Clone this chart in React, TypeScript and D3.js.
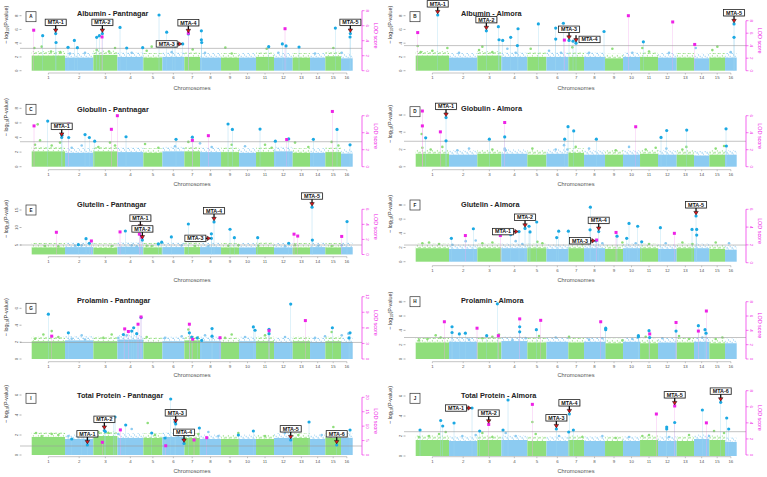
import React from "react";
import * as d3 from "d3";

type Pt = [number, number];
type Side = "top" | "left" | "right";
type Mta = [number, number, Side];

// chromosome lengths (cumulative genome units), 16 chromosomes
const chromLengths = [100, 85, 72, 78, 57, 66, 47, 63, 54, 51, 54, 56, 52, 46, 47, 35];
const chromNames = chromLengths.map((_, i) => String(i + 1));

// ---- Albumin - Pantnagar
const albPantCloud = [2.2, 1.9, 2.3, 2.0, 1.9, 2.0, 2.0, 1.9, 1.9, 1.9, 2.0, 1.9, 1.9, 1.9, 2.1, 1.8];
const albPantFringe: Pt[] = [[8, 3.3], [30, 3.5], [58, 2.8], [86, 2.7], [115, 2.5], [160, 2.6], [195, 3.0], [232, 2.8], [250, 3.3], [300, 2.6], [345, 2.9], [360, 3.5], [420, 2.7], [483, 3.1], [520, 2.6], [581, 3.35], [600, 2.5], [705, 3.2], [740, 2.6], [850, 2.5], [905, 3.3], [930, 2.6]];
const albPantHits: Pt[] = [[33, 5.1], [72, 5.4], [73, 4.1], [109, 3.4], [128, 4.4], [137, 3.35], [195, 4.85], [203, 5.1], [212, 5.4], [265, 6.3], [285, 3.3], [333, 3.35], [382, 8.1], [405, 5.6], [422, 4.0], [430, 3.6], [453, 3.9], [470, 5.35], [509, 5.8], [509, 4.5], [510, 4.1], [711, 3.5], [752, 3.9], [763, 3.6], [802, 3.45], [911, 6.2], [956, 5.4], [955, 4.9]];
const albPantQtl: Pt[] = [[6, 5.4], [211, 4.5], [470, 5.0], [760, 5.6]];
const albPantMta: Mta[] = [[72, 5.4, "top"], [212, 5.4, "top"], [453, 3.9, "left"], [470, 5.35, "top"], [956, 5.4, "top"]];

// ---- Albumin - Almora
const albAlmCloud = [2.2, 1.9, 2.2, 2.0, 2.0, 2.0, 2.0, 2.0, 1.8, 2.0, 2.0, 1.9, 1.9, 1.8, 1.9, 1.9];
const albAlmFringe: Pt[] = [[6, 3.6], [15, 2.7], [50, 2.9], [95, 3.3], [130, 2.6], [190, 3.0], [200, 3.5], [230, 2.7], [275, 3.2], [300, 2.6], [345, 3.2], [400, 2.9], [436, 2.6], [470, 3.4], [520, 2.6], [590, 3.2], [650, 2.6], [680, 3.3], [700, 2.8], [760, 2.6], [840, 3.3], [890, 3.0], [905, 3.5], [945, 2.7]];
const albAlmHits: Pt[] = [[66, 8.1], [212, 5.8], [248, 6.4], [250, 4.5], [261, 4.4], [285, 4.85], [307, 6.1], [305, 3.65], [368, 6.8], [420, 6.2], [420, 4.6], [443, 6.9], [460, 4.4], [472, 4.3], [481, 4.0], [565, 5.7], [683, 4.2], [955, 6.8], [955, 4.85]];
const albAlmQtl: Pt[] = [[6, 6.1], [446, 4.9], [638, 8.8], [771, 7.8], [837, 4.2]];
const albAlmMta: Mta[] = [[66, 8.1, "top"], [212, 5.8, "top"], [460, 4.4, "top"], [481, 4.0, "right"], [955, 6.8, "top"]];

// ---- Globulin - Pantnagar
const gloPantCloud = [2.1, 1.9, 2.1, 2.0, 1.9, 2.1, 2.1, 2.0, 2.0, 1.9, 2.0, 2.1, 1.9, 1.9, 2.0, 1.8];
const gloPantFringe: Pt[] = [[18, 5.8], [10, 3.0], [25, 3.6], [60, 2.9], [85, 3.3], [120, 2.6], [150, 2.9], [200, 2.7], [235, 3.3], [250, 2.9], [340, 3.1], [380, 2.6], [430, 2.8], [470, 3.4], [505, 3.2], [540, 2.7], [600, 3.0], [640, 2.8], [700, 3.0], [720, 2.6], [790, 3.3], [830, 2.7], [900, 3.4], [920, 2.9]];
const gloPantHits: Pt[] = [[48, 6.25], [90, 4.0], [91, 4.3], [111, 4.0], [160, 4.4], [173, 4.0], [189, 3.5], [283, 4.1], [433, 3.75], [482, 4.05], [589, 5.85], [602, 5.1], [685, 5.15], [731, 3.5], [771, 3.8], [845, 3.75], [916, 5.1], [955, 3.0]];
const gloPantQtl: Pt[] = [[7, 4.8], [111, 5.0], [239, 4.4], [257, 6.0], [482, 3.1], [530, 3.65], [765, 3.2], [902, 6.5]];
const gloPantMta: Mta[] = [[90, 4.0, "top"]];

// ---- Globulin - Almora
const gloAlmCloud = [1.5, 1.4, 1.5, 1.5, 1.4, 1.5, 1.6, 1.4, 1.4, 1.4, 1.5, 1.4, 1.4, 1.3, 1.4, 1.4];
const gloAlmFringe: Pt[] = [[18, 3.8], [20, 2.2], [45, 2.0], [80, 2.3], [125, 1.9], [160, 2.1], [230, 2.0], [267, 2.1], [270, 1.9], [350, 2.1], [420, 2.0], [445, 2.5], [455, 2.0], [480, 2.3], [520, 2.1], [600, 1.9], [640, 2.3], [690, 2.0], [720, 2.2], [752, 2.1], [800, 2.0], [812, 2.3], [900, 2.1], [925, 2.4]];
const gloAlmHits: Pt[] = [[30, 3.35], [91, 5.7], [91, 3.0], [221, 3.2], [267, 3.45], [447, 3.2], [457, 4.65], [474, 4.15], [542, 3.2], [736, 3.4], [753, 4.2], [813, 4.25], [931, 4.4], [932, 2.4]];
const gloAlmQtl: Pt[] = [[20, 6.55], [20, 4.8], [74, 4.1], [267, 5.2], [660, 4.7]];
const gloAlmMta: Mta[] = [[91, 5.7, "top"]];

// ---- Glutelin - Pantnagar
const gluPantCloud = [4.3, 4.4, 4.2, 4.5, 4.3, 4.4, 4.4, 4.4, 4.3, 4.3, 4.4, 4.3, 4.3, 4.4, 4.3, 4.4];
const gluPantFringe: Pt[] = [[40, 4.7], [80, 4.6], [130, 4.8], [150, 4.9], [240, 4.7], [300, 4.9], [315, 4.6], [345, 4.8], [360, 4.7], [450, 4.9], [490, 4.7], [530, 4.6], [590, 4.8], [620, 4.9], [680, 4.8], [760, 4.6], [790, 4.95], [860, 4.8], [900, 4.7], [930, 4.9]];
const gluPantHits: Pt[] = [[140, 5.1], [163, 6.8], [173, 5.5], [281, 9.0], [326, 9.5], [323, 10.0], [332, 6.4], [380, 5.3], [390, 5.8], [419, 7.3], [470, 11.0], [539, 8.2], [539, 6.9], [547, 11.6], [595, 9.5], [608, 7.1], [678, 7.1], [771, 5.5], [841, 15.8], [842, 6.4], [946, 11.7]];
const gluPantQtl: Pt[] = [[74, 2.95], [179, 1.8], [265, 3.0], [323, 2.7], [330, 2.3], [787, 2.7], [798, 2.45], [930, 2.4]];
const gluPantMta: Mta[] = [[326, 9.5, "top"], [332, 6.4, "top"], [539, 6.9, "left"], [547, 11.6, "top"], [841, 15.8, "top"]];

// ---- Glutelin - Almora
const gluAlmCloud = [1.9, 1.8, 1.9, 1.9, 1.9, 1.8, 1.9, 1.9, 1.8, 1.9, 1.9, 1.8, 1.9, 1.9, 1.8, 1.7];
const gluAlmFringe: Pt[] = [[20, 2.6], [40, 2.7], [70, 2.5], [110, 2.4], [150, 2.9], [180, 3.0], [200, 2.6], [230, 2.7], [300, 2.9], [320, 2.5], [365, 2.8], [380, 2.6], [470, 2.7], [500, 2.5], [560, 2.6], [620, 2.7], [660, 2.6], [700, 2.5], [750, 2.6], [800, 2.7], [830, 2.5], [900, 2.7], [940, 2.6]];
const gluAlmHits: Pt[] = [[107, 3.3], [173, 4.65], [285, 3.8], [310, 4.25], [328, 4.7], [340, 5.0], [343, 4.2], [363, 5.6], [423, 3.4], [429, 4.3], [458, 4.3], [524, 7.7], [523, 4.5], [541, 2.95], [549, 4.25], [604, 3.6], [633, 3.3], [640, 5.4], [666, 5.0], [678, 2.8], [734, 4.8], [829, 4.55], [841, 6.45], [843, 4.55], [843, 3.75]];
const gluAlmQtl: Pt[] = [[149, 3.05], [254, 3.05], [543, 2.55], [601, 3.4], [776, 3.3]];
const gluAlmMta: Mta[] = [[310, 4.25, "left"], [328, 4.7, "top"], [541, 2.95, "left"], [549, 4.25, "top"], [841, 6.45, "top"]];

// ---- Prolamin - Pantnagar
const proPantCloud = [2.1, 2.2, 2.1, 2.3, 2.0, 2.1, 2.2, 2.1, 2.0, 2.1, 2.1, 2.0, 2.1, 2.0, 2.1, 2.0];
const proPantFringe: Pt[] = [[10, 2.4], [35, 2.9], [60, 3.3], [80, 2.6], [120, 2.4], [150, 2.8], [160, 2.3], [215, 2.5], [240, 2.9], [260, 2.5], [285, 2.8], [345, 2.6], [400, 2.5], [450, 2.7], [470, 3.5], [520, 2.8], [580, 2.5], [600, 2.9], [640, 2.6], [700, 2.8], [760, 2.6], [850, 2.5], [880, 2.7], [900, 3.2], [930, 2.8], [950, 3.0]];
const proPantHits: Pt[] = [[50, 5.3], [110, 3.1], [275, 2.9], [300, 3.3], [306, 3.7], [315, 3.0], [328, 4.9], [473, 3.1], [480, 2.6], [497, 2.5], [510, 2.2], [541, 3.6], [541, 2.7], [665, 3.8], [670, 3.4], [712, 3.0], [712, 3.5], [777, 6.5], [902, 3.7], [955, 3.1], [952, 2.5]];
const proPantQtl: Pt[] = [[60, 4.4], [279, 5.8], [290, 5.3], [319, 6.7], [328, 8.1], [473, 6.7], [483, 3.8], [565, 4.1], [712, 5.45], [821, 7.4]];
const proPantMta: Mta[] = [];

// ---- Prolamin - Almora
const proAlmCloud = [2.3, 2.4, 2.3, 2.5, 2.3, 2.4, 2.3, 2.4, 2.2, 2.4, 2.2, 2.3, 2.3, 2.4, 2.2, 2.2];
const proAlmFringe: Pt[] = [[10, 2.6], [35, 2.8], [60, 3.3], [75, 3.0], [160, 2.7], [200, 2.9], [230, 3.1], [250, 3.4], [290, 2.6], [330, 2.9], [370, 3.2], [420, 3.0], [460, 3.1], [520, 2.7], [560, 2.9], [620, 2.6], [650, 2.8], [690, 3.1], [740, 2.9], [790, 3.2], [820, 2.8], [860, 3.0], [900, 2.8], [920, 3.0]];
const proAlmHits: Pt[] = [[109, 4.5], [109, 3.7], [131, 3.5], [149, 3.6], [213, 3.25], [245, 7.7], [312, 4.5], [312, 3.8], [362, 4.1], [570, 4.3], [570, 4.1], [668, 3.1], [668, 3.25], [700, 3.95], [702, 3.0], [781, 3.9], [848, 4.65], [868, 4.1], [871, 3.6]];
const proAlmQtl: Pt[] = [[86, 5.2], [184, 4.3], [248, 3.25], [312, 5.6], [375, 5.4], [555, 5.2], [702, 3.5], [781, 5.1], [848, 3.9], [872, 6.7]];
const proAlmMta: Mta[] = [];

// ---- Total Protein - Pantnagar
const totPantCloud = [1.8, 1.6, 1.9, 1.7, 1.7, 1.8, 1.7, 1.6, 1.6, 1.6, 1.6, 1.7, 1.7, 1.6, 1.7, 1.7];
const totPantFringe: Pt[] = [[13, 2.2], [30, 1.9], [60, 2.1], [80, 2.0], [110, 1.9], [190, 2.0], [200, 2.3], [230, 2.2], [260, 2.1], [300, 2.6], [348, 3.2], [370, 2.0], [440, 1.9], [500, 2.1], [530, 2.3], [560, 1.9], [620, 2.2], [700, 1.9], [760, 2.2], [800, 2.0], [870, 2.0], [905, 2.8], [940, 1.9]];
const totPantHits: Pt[] = [[120, 1.6], [150, 2.1], [167, 1.0], [218, 2.45], [221, 2.35], [245, 3.5], [250, 3.8], [282, 3.0], [360, 2.2], [400, 1.7], [417, 5.6], [430, 3.3], [432, 3.1], [457, 1.15], [470, 2.0], [503, 2.7], [620, 2.0], [665, 2.4], [777, 1.5], [832, 3.3], [915, 1.0], [955, 2.5]];
const totPantQtl: Pt[] = [[212, 4.4], [266, 8.7], [402, 3.2], [487, 5.2], [525, 6.0]];
const totPantMta: Mta[] = [[167, 1.0, "top"], [218, 2.45, "top"], [432, 3.1, "top"], [457, 1.15, "top"], [777, 1.5, "top"], [915, 1.0, "top"]];

// ---- Total Protein - Almora
const totAlmCloud = [1.6, 1.5, 1.6, 1.6, 1.5, 1.5, 1.6, 1.5, 1.5, 1.5, 1.6, 1.5, 1.5, 1.7, 1.6, 1.4];
const totAlmFringe: Pt[] = [[10, 1.9], [40, 2.0], [70, 2.2], [90, 2.4], [140, 2.0], [180, 2.1], [200, 2.3], [230, 1.9], [270, 2.3], [300, 2.0], [350, 3.4], [360, 2.2], [430, 2.0], [500, 1.9], [560, 2.0], [600, 1.8], [640, 1.9], [680, 2.0], [700, 2.1], [760, 1.9], [820, 2.1], [880, 2.0], [895, 2.5], [925, 2.3]];
const totAlmHits: Pt[] = [[13, 2.6], [75, 3.55], [81, 3.0], [115, 3.3], [169, 4.8], [192, 2.5], [262, 2.6], [277, 5.6], [422, 2.7], [461, 4.2], [459, 2.4], [473, 2.6], [753, 2.9], [753, 2.7], [777, 3.35], [860, 4.6], [915, 5.37], [933, 3.8], [939, 2.7]];
const totAlmQtl: Pt[] = [[219, 3.8], [350, 6.3], [722, 5.1], [777, 6.1], [872, 4.0]];
const totAlmMta: Mta[] = [[169, 4.8, "left"], [219, 3.17, "top"], [422, 2.7, "top"], [461, 4.2, "top"], [777, 5.0, "top"], [915, 5.37, "top"]];

const panels = [
  { letter: "A", title: "Albumin - Pantnagar", cloud: albPantCloud, fringe: albPantFringe, hits: albPantHits, qtl: albPantQtl, mta: albPantMta, threshold: 3.25, base: 0, leftTicks: [0, 2, 4, 6, 8], leftMax: 8, rightTicks: [0, 2, 4, 6, 8], rightMax: 8, y0: 70.7, yTop: 15.7, ry0: 70.7, ryTop: 10.7, labelY: 77.3, chromY: 90, boxTop: 11.7, titleY: 16 },
  { letter: "B", title: "Albumin - Almora", cloud: albAlmCloud, fringe: albAlmFringe, hits: albAlmHits, qtl: albAlmQtl, mta: albAlmMta, threshold: 3.65, base: 0, leftTicks: [0, 2, 4, 6, 8], leftMax: 8, rightTicks: [0, 2, 4, 6, 8], rightMax: 8, y0: 70.7, yTop: 15.7, ry0: 70.7, ryTop: 20.7, labelY: 77.3, chromY: 90, boxTop: 11.7, titleY: 16 },
  { letter: "C", title: "Globulin - Pantnagar", cloud: gloPantCloud, fringe: gloPantFringe, hits: gloPantHits, qtl: gloPantQtl, mta: gloPantMta, threshold: 3.42, base: 0, leftTicks: [0, 2, 4, 6, 8], leftMax: 8, rightTicks: [0, 2, 4, 6], rightMax: 6, y0: 71.7, yTop: 13.3, ry0: 71.7, ryTop: 20.7, labelY: 79, chromY: 91, boxTop: 9.3, titleY: 17 },
  { letter: "D", title: "Globulin - Almora", cloud: gloAlmCloud, fringe: gloAlmFringe, hits: gloAlmHits, qtl: gloAlmQtl, mta: gloAlmMta, threshold: 2.95, base: 0, leftTicks: [0, 2, 4, 6], leftMax: 6, rightTicks: [0, 2, 4, 6], rightMax: 6, y0: 71.7, yTop: 20, ry0: 71.7, ryTop: 20.7, labelY: 79, chromY: 91, boxTop: 11.7, titleY: 16 },
  { letter: "E", title: "Glutelin - Pantnagar", cloud: gluPantCloud, fringe: gluPantFringe, hits: gluPantHits, qtl: gluPantQtl, mta: gluPantMta, threshold: 5, base: 2.3, leftTicks: [5, 10, 15], leftMax: 15, rightTicks: [0, 2, 4, 6], rightMax: 6, y0: 72.5, yTop: 20, ry0: 64.5, ryTop: 19.3, labelY: 71, chromY: 92, boxTop: 15, titleY: 17 },
  { letter: "F", title: "Glutelin - Almora", cloud: gluAlmCloud, fringe: gluAlmFringe, hits: gluAlmHits, qtl: gluAlmQtl, mta: gluAlmMta, threshold: 2.35, base: 0, leftTicks: [0, 2, 4, 6, 8], leftMax: 8, rightTicks: [0, 2, 4, 6], rightMax: 6, y0: 71.7, yTop: 15, ry0: 72.7, ryTop: 19.3, labelY: 80, chromY: 92, boxTop: 10, titleY: 17 },
  { letter: "G", title: "Prolamin - Pantnagar", cloud: proPantCloud, fringe: proPantFringe, hits: proPantHits, qtl: proPantQtl, mta: proPantMta, threshold: 1.96, base: 0, leftTicks: [0, 2, 4, 6], leftMax: 6, rightTicks: [0, 3, 6, 9, 12], rightMax: 12, y0: 74, yTop: 23.3, ry0: 74, ryTop: 11.7, labelY: 81, chromY: 92, boxTop: 18.3, titleY: 18 },
  { letter: "H", title: "Prolamin - Almora", cloud: proAlmCloud, fringe: proAlmFringe, hits: proAlmHits, qtl: proAlmQtl, mta: proAlmMta, threshold: 3.0, base: 0, leftTicks: [0, 2, 4, 6, 8], leftMax: 8, rightTicks: [0, 2, 4, 6, 8], rightMax: 8, y0: 74, yTop: 16.7, ry0: 74, ryTop: 16.7, labelY: 81, chromY: 92, boxTop: 11.7, titleY: 18 },
  { letter: "I", title: "Total Protein - Pantnagar", cloud: totPantCloud, fringe: totPantFringe, hits: totPantHits, qtl: totPantQtl, mta: totPantMta, threshold: 0.9, base: 0, leftTicks: [0, 2, 4, 6], leftMax: 6, rightTicks: [0, 5, 10, 15, 20], rightMax: 20, y0: 75, yTop: 15, ry0: 75, ryTop: 17.3, labelY: 81, chromY: 93, boxTop: 13.3, titleY: 18 },
  { letter: "J", title: "Total Protein - Almora", cloud: totAlmCloud, fringe: totAlmFringe, hits: totAlmHits, qtl: totAlmQtl, mta: totAlmMta, threshold: 2.43, base: 0, leftTicks: [0, 2, 4, 6], leftMax: 6, rightTicks: [0, 2, 4, 6, 8], rightMax: 8, y0: 76, yTop: 16, ry0: 75, ryTop: 10.7, labelY: 81, chromY: 93, boxTop: 13.3, titleY: 18 },
];

type PanelSpec = (typeof panels)[number];

const GREEN = "#8fde7b";
const BLUE = "#8ccbf1";
const HIT = "#1ba9e3";
const QTL = "#ee22e6";
const FONT = "'Liberation Sans', Arial, sans-serif";
const SPECKLE_PX = 4.5; // height of the sparse dotted band above each cloud

const chromStarts = chromLengths.map((_, i) => d3.sum(chromLengths.slice(0, i)));
const genomeLength = d3.sum(chromLengths);
const chromIndex = (pos: number) => Math.max(0, d3.bisectRight(chromStarts, pos) - 1);

function MtaLabel({ x, y, side, text }: { x: number; y: number; side: Side; text: string }) {
  const bw = 21;
  const bh = 6.4;
  let bx: number, by: number;
  let shaft: [number, number, number, number];
  let head: string;
  if (side === "left") {
    bx = x - 5.5 - bw;
    by = y - bh / 2;
    shaft = [x - 5.5, y, x - 3, y];
    head = `${x - 4.2},${y - 2.2} ${x - 0.8},${y} ${x - 4.2},${y + 2.2}`;
  } else {
    bx = side === "right" ? x + 3 : x - bw / 2;
    by = side === "right" ? y - 7 : y - 8 - bh;
    shaft = [x, y - 8, x, y - 3.5];
    head = `${x - 2.2},${y - 4.6} ${x},${y - 1.1} ${x + 2.2},${y - 4.6}`;
  }
  return (
    <g>
      <rect x={bx + 0.6} y={by + 0.6} width={bw} height={bh} fill="#888" opacity={0.5} />
      <rect x={bx} y={by} width={bw} height={bh} fill="#fff" stroke="#222" strokeWidth={0.8} />
      <text x={bx + bw / 2} y={by + bh / 2 + 1.9} textAnchor="middle" fontSize={5.4} fontWeight="bold" fill="#111">
        {text}
      </text>
      <line x1={shaft[0]} y1={shaft[1]} x2={shaft[2]} y2={shaft[3]} stroke="#111" strokeWidth={1.3} />
      <polygon points={head} fill="#e3161d" stroke="#111" strokeWidth={0.55} />
    </g>
  );
}

function Panel({ p, ox, oy }: { p: PanelSpec; ox: number; oy: number }) {
  const x = d3.scaleLinear().domain([0, genomeLength]).range([31.7, 352.7]);
  const y = d3.scaleLinear().domain([0, p.leftMax]).range([p.y0, p.yTop]);
  const yr = d3.scaleLinear().domain([0, p.rightMax]).range([p.ry0, p.ryTop]);
  const mid = (i: number) => x(chromStarts[i] + chromLengths[i] / 2);
  const axisY = p.labelY - 4.3;
  const rightX = 362;
  const lodMid = (p.ry0 + p.ryTop) / 2 - 5;

  return (
    <g transform={`translate(${ox},${oy})`} fontFamily={FONT}>
      {/* SNP cloud per chromosome: solid core plus a speckled fringe */}
      {chromLengths.map((len, i) => {
        const x0 = x(chromStarts[i]);
        const w = x(chromStarts[i] + len) - x0;
        const top = y(p.cloud[i]);
        return (
          <g key={i}>
            <rect x={x0} y={top - SPECKLE_PX} width={w} height={SPECKLE_PX} fill={`url(#speck${i % 2 === 0 ? "G" : "B"})`} />
            <rect x={x0} y={top} width={w} height={y(p.base) - top} fill={i % 2 === 0 ? GREEN : BLUE} />
          </g>
        );
      })}
      {p.fringe.map(([g, v], i) => (
        <circle key={i} cx={x(g)} cy={y(v)} r={1.3} fill={chromIndex(g) % 2 === 0 ? GREEN : BLUE} />
      ))}

      {/* stems */}
      {p.hits.map(([g, v], i) => (
        <line key={`hs${i}`} x1={x(g)} x2={x(g)} y1={y(v)} y2={y(p.base)} stroke="#9fd8f2" strokeWidth={0.5} opacity={0.8} />
      ))}
      {p.qtl.map(([g, v], i) => (
        <line key={`qs${i}`} x1={x(g)} x2={x(g)} y1={yr(v)} y2={y(p.base)} stroke="#f4a6ee" strokeWidth={0.5} opacity={0.8} />
      ))}

      {/* threshold */}
      <line x1={20} x2={rightX} y1={y(p.threshold)} y2={y(p.threshold)} stroke="#9a9a9a" strokeWidth={0.6} />

      {p.hits.map(([g, v], i) => (
        <circle key={`h${i}`} cx={x(g)} cy={y(v)} r={1.6} fill={HIT} />
      ))}
      {p.qtl.map(([g, v], i) => (
        <rect key={`q${i}`} x={x(g) - 1.5} y={yr(v) - 1.5} width={3} height={3} fill={QTL} />
      ))}

      {/* left axis */}
      {p.leftTicks.map((t) => (
        <g key={`l${t}`}>
          <line x1={19.5} x2={21.5} y1={y(t)} y2={y(t)} stroke="#666" strokeWidth={0.5} />
          <text transform={`translate(18,${y(t)}) rotate(-90)`} textAnchor="middle" fontSize={4.4} fill="#555">
            {t}
          </text>
        </g>
      ))}
      <text transform={`translate(8,${p.yTop + 9}) rotate(-90)`} textAnchor="middle" fontSize={5.4} fill="#333">
        − log<tspan fontSize={3.8} dy={1.3}>10</tspan>
        <tspan dy={-1.3}>(P-value)</tspan>
      </text>

      {/* right LOD axis */}
      <line x1={rightX} x2={rightX} y1={p.ry0} y2={p.ryTop} stroke={QTL} strokeWidth={0.7} />
      {p.rightTicks.map((t) => (
        <g key={`r${t}`}>
          <line x1={rightX} x2={rightX + 2.5} y1={yr(t)} y2={yr(t)} stroke={QTL} strokeWidth={0.6} />
          <text transform={`translate(366,${yr(t)}) rotate(90)`} textAnchor="middle" fontSize={4.4} fill={QTL}>
            {t}
          </text>
        </g>
      ))}
      <text transform={`translate(373.5,${lodMid}) rotate(90)`} textAnchor="middle" fontSize={5.4} fill={QTL}>
        LOD score
      </text>

      {/* chromosome axis */}
      <line x1={mid(0)} x2={mid(15)} y1={axisY} y2={axisY} stroke="#888" strokeWidth={0.5} />
      {chromNames.map((c, i) => (
        <g key={c}>
          <line x1={mid(i)} x2={mid(i)} y1={axisY} y2={axisY + 1.5} stroke="#888" strokeWidth={0.5} />
          <text x={mid(i)} y={p.labelY + 1.6} textAnchor="middle" fontSize={4.4} fill="#555">
            {c}
          </text>
        </g>
      ))}
      <text x={192} y={p.chromY} textAnchor="middle" fontSize={5.7} fill="#555">
        Chromosomes
      </text>

      {/* panel tag and title */}
      <rect x={26} y={p.boxTop} width={10} height={10} fill="#fff" stroke="#333" strokeWidth={0.7} />
      <text x={31} y={p.boxTop + 6.6} textAnchor="middle" fontSize={4.6} fontWeight="bold" fill="#222">
        {p.letter}
      </text>
      <text x={77} y={p.titleY} fontSize={7.3} fontWeight="bold" fill="#222">
        {p.title}
      </text>

      {p.mta.map(([g, v, side], i) => (
        <MtaLabel key={`m${i}`} x={x(g)} y={y(v)} side={side} text={`MTA-${i + 1}`} />
      ))}
    </g>
  );
}

export default function App() {
  const W = 767;
  const H = 477;
  return (
    <svg width={W} height={H} style={{ position: "absolute", left: 0, top: 0, background: "#fff" }}>
      <defs>
        <pattern id="speckG" width={5} height={4.5} patternUnits="userSpaceOnUse">
          <circle cx={1} cy={3.6} r={0.8} fill={GREEN} />
          <circle cx={3.4} cy={1.8} r={0.7} fill={GREEN} />
          <circle cx={4.4} cy={4.2} r={0.8} fill={GREEN} />
        </pattern>
        <pattern id="speckB" width={5} height={4.5} patternUnits="userSpaceOnUse">
          <circle cx={1.2} cy={2.4} r={0.7} fill={BLUE} />
          <circle cx={3.2} cy={4.0} r={0.8} fill={BLUE} />
          <circle cx={4.6} cy={0.9} r={0.6} fill={BLUE} />
        </pattern>
      </defs>
      <rect width={W} height={H} fill="#fff" />
      {panels.map((p, i) => (
        <Panel key={p.letter} p={p} ox={(i % 2) * 384} oy={Math.floor(i / 2) * 95} />
      ))}
    </svg>
  );
}
